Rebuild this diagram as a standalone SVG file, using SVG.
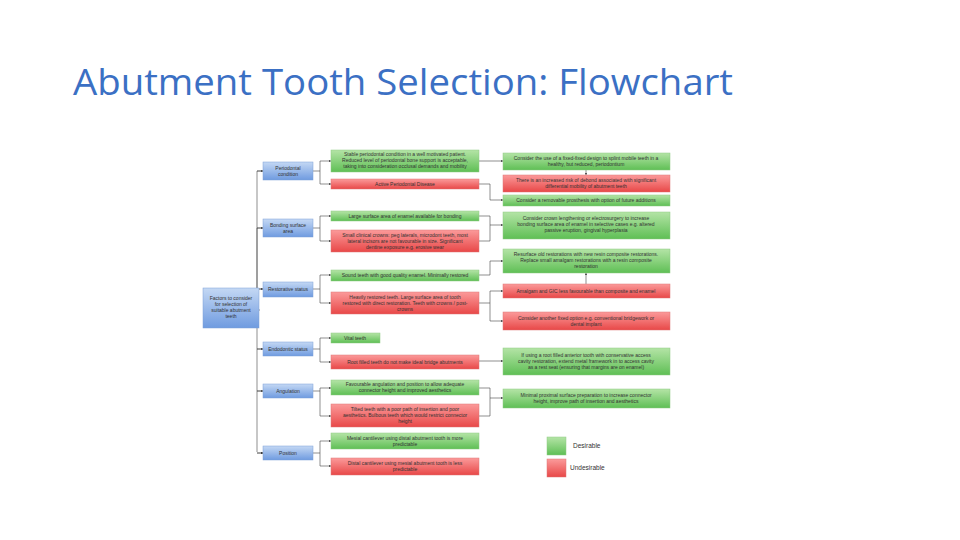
<svg xmlns="http://www.w3.org/2000/svg" width="960" height="540" viewBox="0 0 960 540">
<defs>
<linearGradient id="gg" x1="0" y1="0" x2="0" y2="1"><stop offset="0" stop-color="#b4e4a6"/><stop offset="1" stop-color="#5fbf55"/></linearGradient>
<linearGradient id="rg" x1="0" y1="0" x2="0" y2="1"><stop offset="0" stop-color="#fb9a9a"/><stop offset="1" stop-color="#e84848"/></linearGradient>
<linearGradient id="bg" x1="0" y1="0" x2="0" y2="1"><stop offset="0" stop-color="#c4d8f4"/><stop offset="1" stop-color="#6f9be0"/></linearGradient>
<marker id="ah" viewBox="0 0 6 6" refX="6" refY="3" markerWidth="4" markerHeight="4" orient="auto"><path d="M0,0L6,3L0,6z" fill="#333"/></marker>
<style>
.g{fill:url(#gg);stroke:#8fc985;stroke-width:0.5}
.r{fill:url(#rg);stroke:#d77;stroke-width:0.5}
.b{fill:url(#bg);stroke:#7ea0d6;stroke-width:0.5}
text{font-family:"Liberation Sans",Arial,sans-serif;font-size:5px;fill:#333;text-anchor:middle}
.c path{fill:none;stroke:#444;stroke-width:0.6}
.c .a{marker-end:url(#ah)}
</style>
</defs>
<rect width="960" height="540" fill="#fff"/>
<text x="73" y="95" style="font-family:'Open Sans','Liberation Sans',sans-serif;font-size:37px;fill:#3b70c4;text-anchor:start" textLength="660" lengthAdjust="spacingAndGlyphs">Abutment Tooth Selection: Flowchart</text>

<g class="c">
<path d="M260,310H257V171M257,228V452M257,171h6M257,228h6M257,289h6M257,349h6M257,391h6M257,453h6" class="a"/>
<path class="a" d="M257,171h6"/><path class="a" d="M257,228h6"/><path class="a" d="M257,289h6"/><path class="a" d="M257,349h6"/><path class="a" d="M257,391h6"/><path class="a" d="M257,453h6"/>
<path d="M313,171H320M320,161V184M313,228H320M320,216V241M313,289H320M320,275V303M313,349H320M320,338V362M313,391H320M320,388V416M313,453H320M320,441V466"/>
<path class="a" d="M320,161H331"/><path class="a" d="M320,184H331"/><path class="a" d="M320,216H331"/><path class="a" d="M320,241H331"/><path class="a" d="M320,275H331"/><path class="a" d="M320,303H331"/><path class="a" d="M320,338H331"/><path class="a" d="M320,362H331"/><path class="a" d="M320,388H331"/><path class="a" d="M320,416H331"/><path class="a" d="M320,441H331"/><path class="a" d="M320,466H331"/>
<path class="a" d="M479,161H503"/>
<path class="a" d="M586,170V175"/>
<path d="M479,184H490V200"/><path class="a" d="M490,200H503"/>
<path d="M479,216H490V241H479M490,225"/><path class="a" d="M490,225H503"/>
<path d="M479,275H490V261"/><path class="a" d="M490,261H503"/>
<path d="M479,303H490V291M490,303V321"/><path class="a" d="M490,291H503"/><path class="a" d="M490,321H503"/>
<path class="a" d="M586,284V273"/>
<path class="a" d="M479,361H503"/>
<path d="M479,388H490V416H479"/><path class="a" d="M490,398H503"/>
</g>

<g id="root"><rect class="b" x="203" y="288" width="56" height="40"/><text x="231" y="300">Factors to consider</text><text x="231" y="306">for selection of</text><text x="231" y="312">suitable abutment</text><text x="231" y="318">teeth</text></g>
<g id="cat1"><rect class="b" x="263" y="162" width="50" height="18"/><text x="288" y="170">Periodontal</text><text x="288" y="176">condition</text></g>
<g id="cat2"><rect class="b" x="263" y="219" width="50" height="18"/><text x="288" y="227">Bonding surface</text><text x="288" y="233">area</text></g>
<g id="cat3"><rect class="b" x="263" y="282" width="50" height="15"/><text x="288" y="291">Restorative status</text></g>
<g id="cat4"><rect class="b" x="263" y="342" width="50" height="14"/><text x="288" y="351">Endodontic status</text></g>
<g id="cat5"><rect class="b" x="263" y="384" width="50" height="14"/><text x="288" y="393">Angulation</text></g>
<g id="cat6"><rect class="b" x="263" y="446" width="50" height="14"/><text x="288" y="455">Position</text></g>

<g id="m1"><rect class="g" x="331" y="150" width="148" height="22"/><text x="405" y="156">Stable periodontal condition in a well motivated patient.</text><text x="405" y="162">Reduced level of periodontal bone support is acceptable,</text><text x="405" y="168">taking into consideration occlusal demands and mobility</text></g>
<g id="m2"><rect class="r" x="331" y="179" width="148" height="10"/><text x="405" y="186">Active Periodontal Disease</text></g>
<g id="m3"><rect class="g" x="331" y="211" width="148" height="10"/><text x="405" y="218">Large surface area of enamel available for bonding</text></g>
<g id="m4"><rect class="r" x="331" y="230" width="148" height="22"/><text x="405" y="237">Small clinical crowns: peg laterals, microdont teeth, most</text><text x="405" y="243">lateral incisors are not favourable in size. Significant</text><text x="405" y="249">dentine exposure e.g. erosive wear</text></g>
<g id="m5"><rect class="g" x="331" y="270" width="148" height="11"/><text x="405" y="277">Sound teeth with good quality enamel. Minimally restored</text></g>
<g id="m6"><rect class="r" x="331" y="292" width="148" height="22"/><text x="405" y="299">Heavily restored teeth. Large surface area of tooth</text><text x="405" y="305">restored with direct restoration. Teeth with crowns / post-</text><text x="405" y="311">crowns</text></g>
<g id="m7"><rect class="g" x="331" y="333" width="49" height="10"/><text x="355" y="340">Vital teeth</text></g>
<g id="m8"><rect class="r" x="331" y="355" width="148" height="14"/><text x="405" y="364">Root filled teeth do not make ideal bridge abutments</text></g>
<g id="m9"><rect class="g" x="331" y="380" width="148" height="15"/><text x="405" y="386">Favourable angulation and position to allow adequate</text><text x="405" y="392">connector height and improved aesthetics</text></g>
<g id="m10"><rect class="r" x="331" y="404" width="148" height="23"/><text x="405" y="411">Tilted teeth with a poor path of insertion and poor</text><text x="405" y="417">aesthetics. Bulbous teeth which would restrict connector</text><text x="405" y="423">height</text></g>
<g id="m11"><rect class="g" x="331" y="433" width="148" height="16"/><text x="405" y="440">Mesial cantilever using distal abutment tooth is more</text><text x="405" y="446">predictable</text></g>
<g id="m12"><rect class="r" x="331" y="458" width="148" height="17"/><text x="405" y="465">Distal cantilever using mesial abutment tooth is less</text><text x="405" y="471">predictable</text></g>

<g id="r1"><rect class="g" x="503" y="153" width="167" height="17"/><text x="586" y="160">Consider the use of a fixed-fixed design to splint mobile teeth in a</text><text x="586" y="166">healthy, but reduced, periodontium</text></g>
<g id="r2"><rect class="r" x="503" y="175" width="167" height="17"/><text x="586" y="182">There is an increased risk of debond associated with significant</text><text x="586" y="188">differential mobility of abutment teeth</text></g>
<g id="r3"><rect class="g" x="503" y="195" width="167" height="11"/><text x="586" y="202">Consider a removable prosthesis with option of future additions</text></g>
<g id="r4"><rect class="g" x="503" y="212" width="167" height="27"/><text x="586" y="220">Consider crown lengthening or electrosurgery to increase</text><text x="586" y="226">bonding surface area of enamel in selective cases e.g. altered</text><text x="586" y="232">passive eruption, gingival hyperplasia</text></g>
<g id="r5"><rect class="g" x="503" y="249" width="167" height="24"/><text x="586" y="256">Resurface old restorations with new resin composite restorations.</text><text x="586" y="262">Replace small amalgam restorations with a resin composite</text><text x="586" y="268">restoration</text></g>
<g id="r6"><rect class="r" x="503" y="284" width="167" height="14"/><text x="586" y="293">Amalgam and GIC less favourable than composite and enamel</text></g>
<g id="r7"><rect class="r" x="503" y="312" width="167" height="18"/><text x="586" y="320">Consider another fixed option e.g. conventional bridgework or</text><text x="586" y="326">dental implant</text></g>
<g id="r8"><rect class="g" x="503" y="348" width="167" height="27"/><text x="586" y="357">If using a root filled anterior tooth with conservative access</text><text x="586" y="363">cavity restoration, extend metal framework in to access cavity</text><text x="586" y="369">as a rest seat (ensuring that margins are on enamel)</text></g>
<g id="r9"><rect class="g" x="503" y="389" width="167" height="19"/><text x="586" y="397">Minimal proximal surface preparation to increase connector</text><text x="586" y="403">height, improve path of insertion and aesthetics</text></g>

<g id="legend"><rect class="g" x="547" y="437" width="19" height="18"/><text x="573" y="448" style="text-anchor:start;font-size:6.5px">Desirable</text><rect class="r" x="547" y="459" width="19" height="18"/><text x="570" y="470" style="text-anchor:start;font-size:6.5px">Undesirable</text></g>
</svg>
